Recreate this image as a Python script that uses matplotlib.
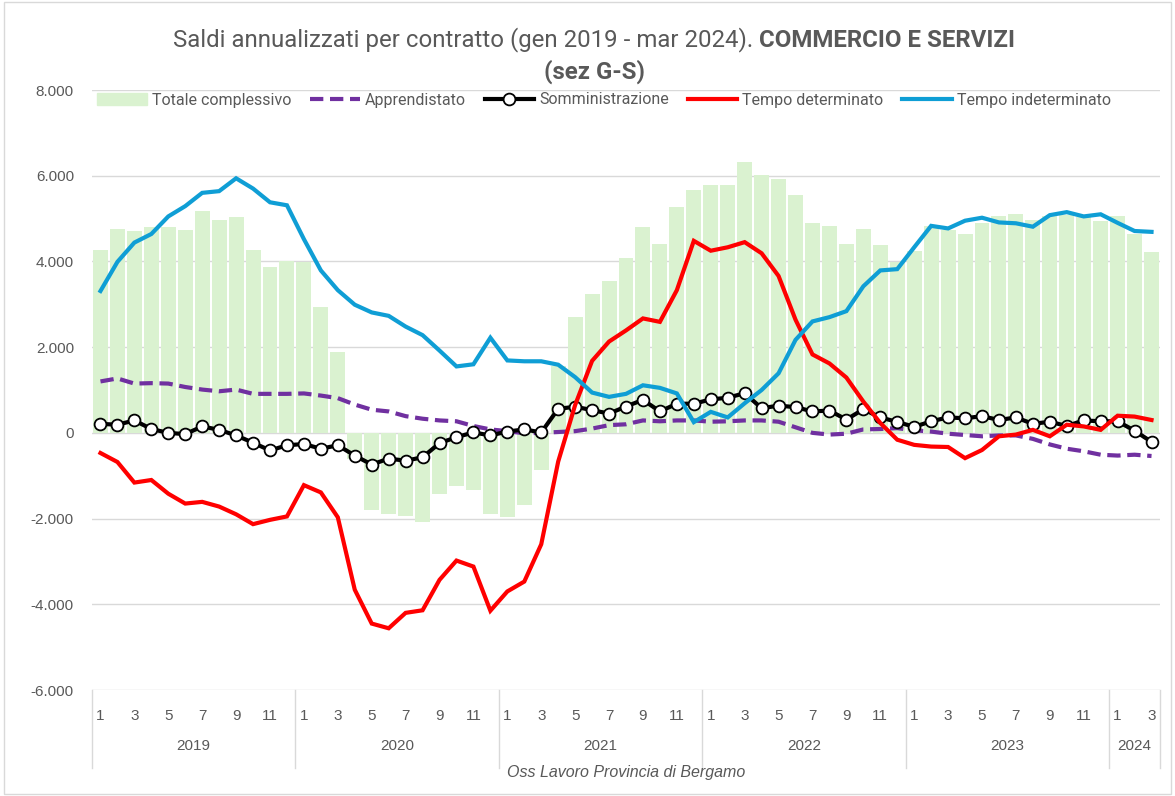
import numpy as np
import matplotlib
matplotlib.use("Agg")
import matplotlib.pyplot as plt
from matplotlib import font_manager as fm
from matplotlib.lines import Line2D
from matplotlib.patches import Patch
from matplotlib.ticker import FuncFormatter
from matplotlib.offsetbox import TextArea, HPacker, AnnotationBbox

# data (gen 2019 - mar 2024)
years = ["2019", "2020", "2021", "2022", "2023", "2024"]
months_per_year = [12, 12, 12, 12, 12, 3]

totale = [4270, 4760, 4720, 4810, 4800, 4730, 5170, 4970, 5030, 4270, 3870, 4010,
          3980, 2930, 1890, -600, -1800, -1900, -1950, -2070, -1430, -1240, -1340, -1900,
          -1970, -1690, -870, 1560, 2700, 3230, 3550, 4080, 4800, 4400, 5260, 5660,
          5790, 5780, 6330, 6020, 5920, 5550, 4900, 4830, 4400, 4750, 4390, 3990,
          4240, 4820, 4740, 4650, 4900, 5060, 5100, 4960, 5050, 5080, 5040, 4940,
          5050, 4630, 4230]
apprendistato = [1200, 1270, 1150, 1160, 1150, 1070, 1010, 970, 1010, 910, 910, 910,
                 920, 870, 810, 660, 540, 500, 390, 330, 290, 270, 160, 80,
                 40, -10, 0, 20, 40, 100, 180, 200, 290, 270, 290, 290,
                 260, 270, 290, 290, 260, 130, 0, -40, -20, 80, 90, 110,
                 60, 30, -20, -50, -80, -60, -60, -140, -270, -370, -430, -510,
                 -530, -510, -540]
somministrazione = [210, 190, 290, 90, 0, -30, 150, 70, -60, -230, -410, -290,
                    -260, -370, -290, -530, -740, -600, -650, -570, -240, -100, 10, -60,
                    30, 80, 10, 560, 610, 530, 450, 615, 770, 500, 680, 680,
                    780, 820, 925, 575, 635, 600, 500, 520, 310, 550, 360, 255,
                    140, 270, 360, 340, 390, 300, 360, 210, 260, 160, 290, 270,
                    270, 50, -210]
determinato = [-470, -680, -1160, -1100, -1420, -1650, -1610, -1720, -1900, -2130, -2030, -1950,
               -1220, -1390, -1970, -3660, -4450, -4560, -4200, -4140, -3430, -2980, -3120, -4150,
               -3700, -3470, -2600, -670, 650, 1680, 2130, 2390, 2670, 2590, 3330, 4480,
               4250, 4330, 4450, 4190, 3660, 2640, 1830, 1620, 1290, 730, 230, -160,
               -280, -320, -330, -590, -400, -80, -40, 70, -80, 190, 150, 70,
               400, 380, 300]
indeterminato = [3310, 3990, 4440, 4640, 5050, 5290, 5600, 5640, 5940, 5700, 5380, 5310,
                 4520, 3790, 3330, 2990, 2810, 2730, 2480, 2280, 1920, 1550, 1600, 2220,
                 1690, 1670, 1670, 1590, 1300, 940, 840, 910, 1110, 1050, 920, 250,
                 490, 360, 690, 1000, 1390, 2170, 2600, 2700, 2840, 3420, 3790, 3820,
                 4330, 4830, 4770, 4950, 5020, 4910, 4890, 4810, 5080, 5150, 5050, 5100,
                 4900, 4710, 4690]

names = {f.name for f in fm.fontManager.ttflist}
narrow = "Liberation Sans Narrow" if "Liberation Sans Narrow" in names else "Roboto"
plain = "Liberation Sans"

grey = "#595959"
x = np.arange(1, len(totale) + 1)
month_lab = [m for n in months_per_year for m in range(1, n + 1)]

fig = plt.figure(figsize=(11.75, 7.96), dpi=100)
ax = fig.add_axes([92 / 1175, 1 - 690 / 796, (1160 - 92) / 1175, 600 / 796])

ax.bar(x, totale, width=0.88, color="#daf2d0", zorder=2)
ax.plot(x, apprendistato, color="#7030a0", lw=3, ls=(0, (3.2, 1.6)), zorder=3)
ax.plot(x, somministrazione, color="black", lw=3, marker="o", ms=8.5,
        mfc="white", mec="black", mew=1.3, zorder=4)
ax.plot(x, determinato, color="#ff0000", lw=3, zorder=5, solid_joinstyle="miter")
ax.plot(x, indeterminato, color="#0f9ed5", lw=3, zorder=6, solid_joinstyle="miter")

ax.set_xlim(0.5, len(x) + 0.5)
ax.set_ylim(-6000, 8000)
ax.set_yticks(np.arange(-6000, 8001, 2000))
ax.yaxis.set_major_formatter(FuncFormatter(lambda v, p: f"{v:,.0f}".replace(",", ".")))
ax.grid(axis="y", color="#d9d9d9", lw=1, zorder=0)
for s in ax.spines.values():
    s.set_visible(False)
ax.tick_params(axis="y", length=0, pad=13, labelsize=11, labelcolor=grey)
for t in ax.get_yticklabels():
    t.set_fontfamily(plain)

# month ticks (odd months only)
odd = [i for i, m in zip(x, month_lab) if m % 2 == 1]
ax.set_xticks(odd)
ax.set_xticklabels([str(month_lab[i - 1]) for i in odd], fontfamily=plain)
ax.tick_params(axis="x", length=0, pad=14, labelsize=11, labelcolor=grey)

# year labels and separators
tr = ax.get_xaxis_transform()
start = 0.5
bounds = [start]
for y, n in zip(years, months_per_year):
    ax.text(start + n / 2, -0.094, y, transform=tr, ha="center", va="center",
            fontsize=11, color=grey, fontfamily=plain)
    start += n
    bounds.append(start)
for b in bounds:
    ax.plot([b, b], [0, -0.13], transform=tr, color="#d9d9d9", lw=1, clip_on=False)

ax.text(0.5, -0.137, "Oss Lavoro Provincia di Bergamo", transform=ax.transAxes,
        ha="center", va="center", fontsize=11.5, style="italic", color=grey,
        fontfamily=plain)

# title
t1 = TextArea("Saldi annualizzati per contratto (gen 2019 - mar 2024). ",
              textprops=dict(fontsize=17.3, color=grey, fontfamily=narrow))
t2 = TextArea("COMMERCIO E SERVIZI",
              textprops=dict(fontsize=17.3, color=grey, fontfamily=narrow, fontweight="bold"))
box = HPacker(children=[t1, t2], pad=0, sep=0)
fig.add_artist(AnnotationBbox(box, (594 / 1175, 1 - 40 / 796), xycoords="figure fraction",
                              frameon=False, box_alignment=(0.5, 0.5)))
fig.text(595 / 1175, 1 - 72 / 796, "(sez G-S)", ha="center", va="center", fontsize=17.3,
         color=grey, fontfamily=narrow, fontweight="bold")

# legend
handles = [Patch(color="#daf2d0"),
           Line2D([], [], color="#7030a0", lw=3, ls=(0, (3.2, 1.6))),
           Line2D([], [], color="black", lw=3, marker="o", ms=8.5, mfc="white",
                  mec="black", mew=1.3, markevery=[1]),
           Line2D([], [], color="#ff0000", lw=3),
           Line2D([], [], color="#0f9ed5", lw=3)]
labels = ["Totale complessivo", "Apprendistato", "Somministrazione",
          "Tempo determinato", "Tempo indeterminato"]
leg = fig.legend(handles, labels, loc="center", ncol=5, frameon=False,
                 bbox_to_anchor=(604 / 1175, 1 - 100 / 796), handlelength=3.1,
                 handleheight=0.7, handletextpad=0.3, columnspacing=1.2,
                 prop=dict(family=narrow, size=11.5))
for t in leg.get_texts():
    t.set_color(grey)

fig.patches.append(plt.Rectangle((0.003, 0.003), 0.994, 0.994, transform=fig.transFigure,
                                 fill=False, edgecolor="#d9d9d9", lw=1))

fig.savefig("out.png", dpi=100)
